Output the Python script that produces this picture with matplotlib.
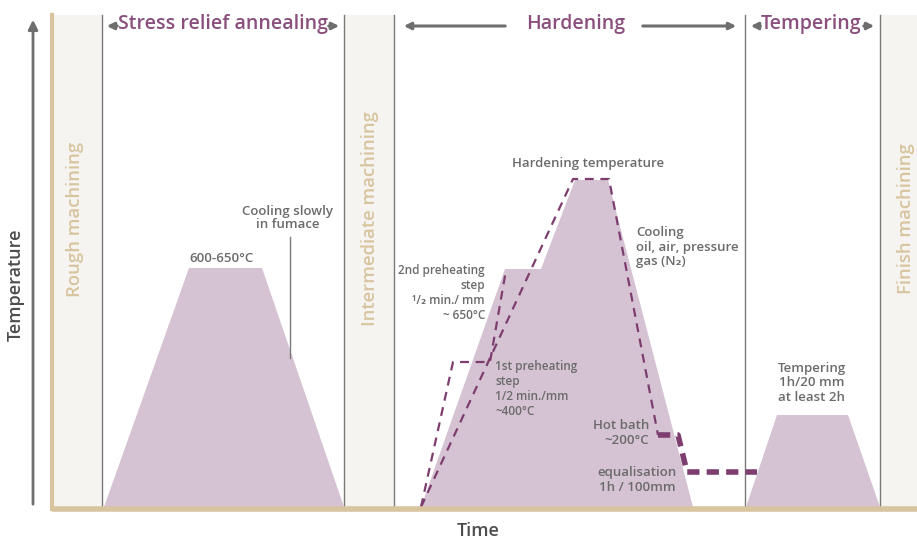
import matplotlib.pyplot as plt

plt.rcParams['font.family'] = ['Open Sans', 'DejaVu Sans']
plt.rcParams['font.weight'] = 'semibold'

# profile shapes (x = time position, y = temperature level, in picture units; y grows downwards)
stress_x = [104, 189, 262, 344]
stress_y = [507, 268, 268, 507]
harden_x = [421, 505, 541, 575, 608, 693]
harden_y = [507, 269, 269, 180, 180, 507]
temper_x = [746, 777, 848, 880]
temper_y = [507, 415, 415, 507]

# dashed paths
pre_x = [421, 453, 490, 506]
pre_y = [507, 362, 362, 270]
direct_x = [421, 573, 609, 658]
direct_y = [507, 179, 179, 435]
bath_x = [658, 678, 687, 757]
bath_y = [435, 435, 472, 472]

# machining panels
panels = [(52, 102, 75, "Rough machining"), (344, 394, 370, "Intermediate machining"),
          (880, 917, 906, "Finish machining")]
sep_lines = [102, 344, 394, 745, 880]

fill_c = '#d5c3d3'
dash_c = '#7d3e6f'
purple = '#8a4f7d'
gray = '#6b6b6b'
tan = '#d8c49f'

fig = plt.figure(figsize=(9.17, 5.41), dpi=100)
ax = fig.add_axes([0, 0, 1, 1])
ax.set_xlim(0, 917)
ax.set_ylim(541, 0)
ax.axis('off')

for x0, x1, xt, lab in panels:
    ax.fill_between([x0, x1], 15, 509, color='#f5f4f0', lw=0, zorder=0)
    ax.text(xt, 219, lab, rotation=90, ha='center', va='center', color=tan, fontsize=13.3)
for x in sep_lines:
    ax.plot([x, x], [15, 509], color='#7a7a7a', lw=1, zorder=1)
ax.plot([52, 52], [15, 509], color=tan, lw=3, zorder=2)
ax.plot([52, 917], [509, 509], color=tan, lw=4, zorder=5, solid_capstyle='butt')

# shapes
ax.fill(stress_x, stress_y, color=fill_c, lw=0, zorder=2)
ax.fill(harden_x, harden_y, color=fill_c, lw=0, zorder=2)
ax.fill(temper_x, temper_y, color=fill_c, lw=0, zorder=2)

ax.plot(pre_x, pre_y, color=dash_c, lw=1.6, dashes=(4, 3), zorder=3)
ax.plot(direct_x, direct_y, color=dash_c, lw=1.6, dashes=(4, 3), zorder=3)
ax.plot(bath_x, bath_y, color=dash_c, lw=4, dashes=(2.2, 1.3), zorder=3)

# axes arrows
ax.annotate('', xy=(33, 17), xytext=(33, 507),
            arrowprops=dict(arrowstyle='-|>', color='#6e6e6e', lw=2, mutation_scale=14))
ax.text(16, 285, 'Temperature', rotation=90, ha='center', va='center', color='#4d4d4d', fontsize=13)
ax.text(478, 531, 'Time', ha='center', va='center', color='#4d4d4d', fontsize=13)

# headers
ap = dict(arrowstyle='-|>', color='#6e6e6e', lw=2.2, mutation_scale=10)
ax.text(223, 24, 'Stress relief annealing', ha='center', va='center', color=purple, fontsize=14)
ax.annotate('', xy=(104, 26), xytext=(120, 26), arrowprops=ap)
ax.annotate('', xy=(342, 26), xytext=(326, 26), arrowprops=ap)
ax.text(576, 24, 'Hardening', ha='center', va='center', color=purple, fontsize=14)
ax.annotate('', xy=(401, 26), xytext=(508, 26), arrowprops=ap)
ax.annotate('', xy=(739, 26), xytext=(640, 26), arrowprops=ap)
ax.text(811, 24, 'Tempering', ha='center', va='center', color=purple, fontsize=14)
ax.annotate('', xy=(748, 26), xytext=(763, 26), arrowprops=ap)
ax.annotate('', xy=(877, 26), xytext=(861, 26), arrowprops=ap)

# annotations
fs = 9.5
ax.text(288, 218, 'Cooling slowly\nin fumace', ha='center', va='center', color=gray, fontsize=fs, linespacing=1.1)
ax.plot([290, 290], [237, 358], color='#7a7a7a', lw=1)
ax.text(222, 258, '600-650°C', ha='center', va='center', color=gray, fontsize=fs)
ax.text(588, 163, 'Hardening temperature', ha='center', va='center', color=gray, fontsize=fs)
ax.text(636, 247, 'Cooling\noil, air, pressure\ngas (N₂)', ha='left', va='center', color=gray,
        fontsize=fs, linespacing=1.12)
ax.text(485, 293, '2nd preheating\nstep\n¹/₂ min./ mm\n~ 650°C', ha='right', va='center', color=gray,
        fontsize=8.5, linespacing=1.18)
ax.text(495, 389, '1st preheating\nstep\n1/2 min./mm\n~400°C', ha='left', va='center', color=gray,
        fontsize=8.5, linespacing=1.18)
ax.text(649, 433, 'Hot bath\n~200°C', ha='right', va='center', color=gray, fontsize=fs, linespacing=1.12)
ax.text(637, 480, 'equalisation\n1h / 100mm', ha='center', va='center', color=gray, fontsize=fs, linespacing=1.12)
ax.text(812, 383, 'Tempering\n1h/20 mm\nat least 2h', ha='center', va='center', color=gray, fontsize=fs,
        linespacing=1.15)

fig.savefig('out.png', dpi=100, facecolor='white')
